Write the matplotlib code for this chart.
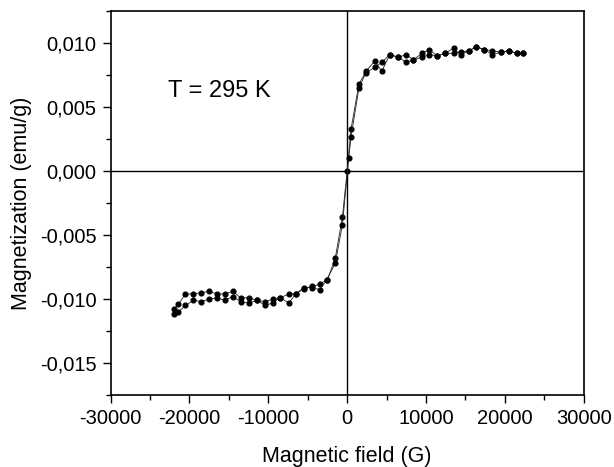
import matplotlib
matplotlib.use("Agg")
import matplotlib.pyplot as plt
from matplotlib.ticker import MultipleLocator, FuncFormatter

plt.rcParams['font.family'] = ['Liberation Sans', 'DejaVu Sans']

field_a = [-22000, -21400, -20500, -19500, -18500, -17500, -16500, -15500, -14500, -13500,
           -12500, -11400, -10400, -9400, -8500, -7400, -6500, -5500, -4500, -3500,
           -2500, -1500, -600, 0, 500, 1500, 2400, 3500, 4400, 5400, 6500, 7500, 8400,
           9500, 10400, 11400, 12400, 13500, 14400, 15400, 16400, 17400, 18400, 19500,
           20500, 21500, 22300]
mag_a = [-0.0108, -0.0104, -0.0096, -0.0096, -0.0095, -0.0094, -0.0096, -0.0096, -0.0094, -0.0099,
         -0.0099, -0.0101, -0.0102, -0.0100, -0.0099, -0.0096, -0.0096, -0.0091, -0.0091, -0.0088,
         -0.0085, -0.0068, -0.0036, 0.0000, 0.0033, 0.0068, 0.0078, 0.0086, 0.0078, 0.0091, 0.0089,
         0.0085, 0.0087, 0.0089, 0.0091, 0.0090, 0.0092, 0.0092, 0.0093, 0.0094, 0.0097, 0.0095,
         0.0091, 0.0093, 0.0094, 0.0092, 0.0092]

field_b = [-22000, -21400, -20500, -19500, -18500, -17500, -16500, -15500, -14500, -13500,
           -12500, -11400, -10400, -9400, -8500, -7400, -6500, -5500, -4500, -3500,
           -2600, -1500, -600, 200, 500, 1500, 2400, 3500, 4400, 5400, 6500, 7500, 8400,
           9500, 10400, 11400, 12400, 13500, 14400, 15400, 16400, 17400, 18400, 19500,
           20500, 21500, 22300]
mag_b = [-0.0112, -0.0110, -0.0105, -0.0101, -0.0102, -0.0100, -0.0099, -0.0101, -0.0098, -0.0102,
         -0.0103, -0.0101, -0.0105, -0.0103, -0.0099, -0.0103, -0.0096, -0.0092, -0.0090, -0.0093,
         -0.0085, -0.0072, -0.0042, 0.0010, 0.0027, 0.0065, 0.0077, 0.0081, 0.0085, 0.0091, 0.0089,
         0.0091, 0.0087, 0.0092, 0.0095, 0.0090, 0.0092, 0.0096, 0.0091, 0.0094, 0.0097, 0.0095,
         0.0094, 0.0093, 0.0094, 0.0092, 0.0092]

fig = plt.figure(figsize=(6.14, 4.67), dpi=100)
ax = fig.add_axes([0.18, 0.154, 0.7707, 0.8222])

ax.axhline(0, color='black', lw=1.0, zorder=1)
ax.axvline(0, color='black', lw=1.0, zorder=1)

for f, m in ((field_a, mag_a), (field_b, mag_b)):
    ax.plot(f, m, color='#222222', lw=0.6, marker='o', markersize=3.4,
            markerfacecolor='black', markeredgecolor='black', zorder=3)

ax.set_xlim(-30000, 30000)
ax.set_ylim(-0.0175, 0.0125)
ax.xaxis.set_major_locator(MultipleLocator(10000))
ax.xaxis.set_minor_locator(MultipleLocator(5000))
ax.yaxis.set_major_locator(MultipleLocator(0.005))
ax.yaxis.set_minor_locator(MultipleLocator(0.0025))
ax.xaxis.set_major_formatter(FuncFormatter(lambda v, p: f"{v:.0f}"))
ax.yaxis.set_major_formatter(FuncFormatter(lambda v, p: f"{v:.3f}".replace('.', ',').replace('-0,000', '0,000')))

ax.tick_params(which='both', direction='out', top=False, right=False, width=1.0, labelsize=14.5)
ax.tick_params(which='major', length=6, pad=4)
ax.tick_params(which='minor', length=3.5)
for s in ax.spines.values():
    s.set_linewidth(1.2)

ax.set_xlabel('Magnetic field (G)', fontsize=15.5, labelpad=13)
ax.set_ylabel('Magnetization (emu/g)', fontsize=15.5, labelpad=6)

ax.text(-22700, 0.00625, 'T = 295 K', fontsize=17, va='center', ha='left')

fig.savefig('out.png', dpi=100)
